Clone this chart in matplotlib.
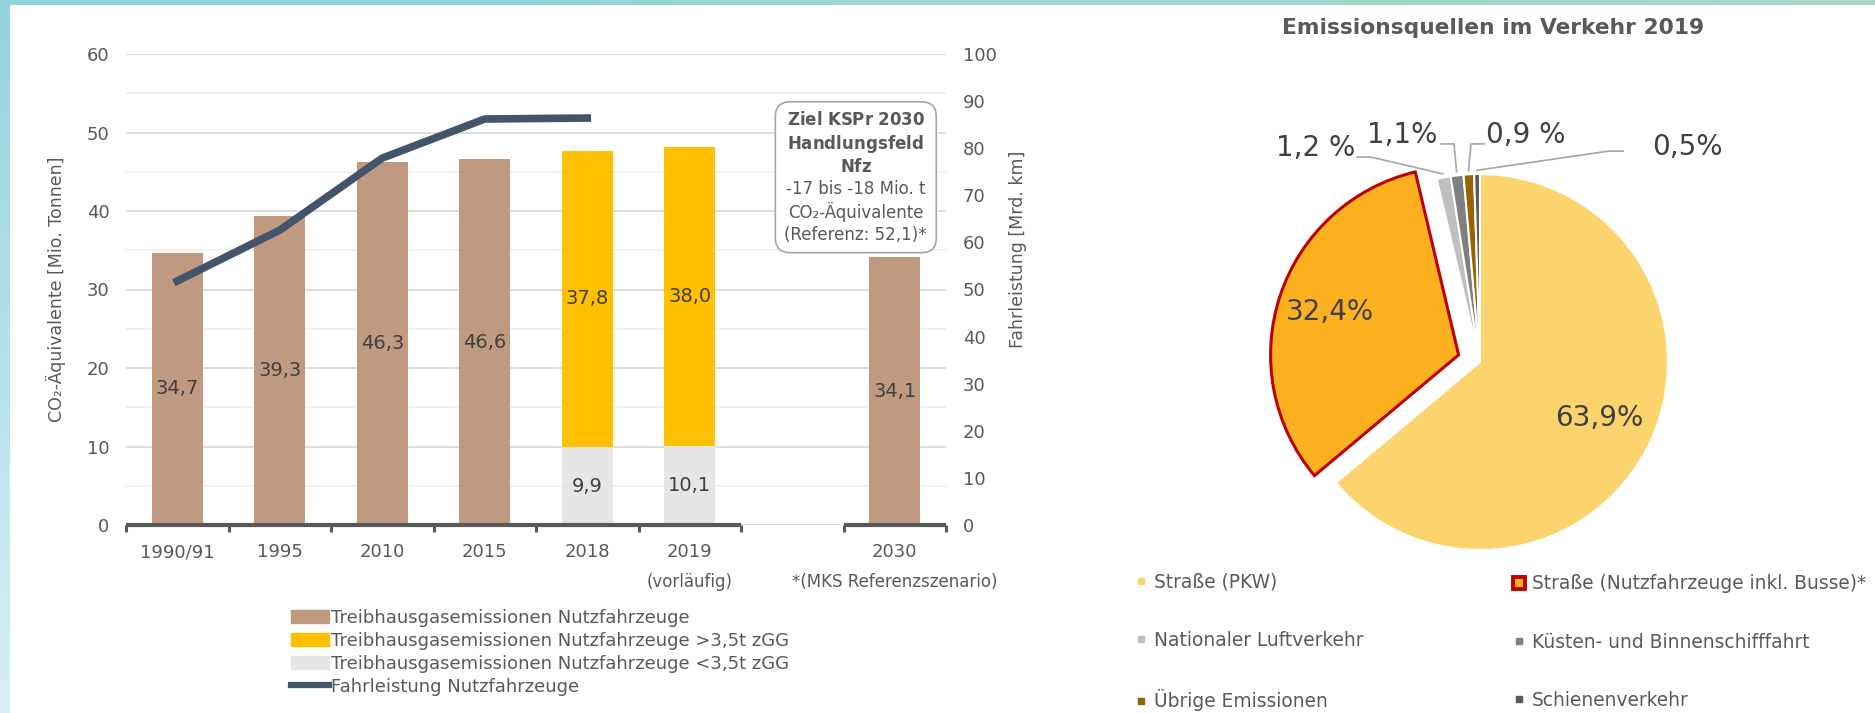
import numpy as np
import matplotlib
matplotlib.use('Agg')
import matplotlib.pyplot as plt
from matplotlib.lines import Line2D
from matplotlib.patches import Patch
from matplotlib.colors import LinearSegmentedColormap
from matplotlib.transforms import blended_transform_factory

plt.rcParams['font.family'] = ['DejaVu Sans']
plt.rcParams['mathtext.fontset'] = 'dejavusans'

# ---- data: left chart ----
years = ['1990/91', '1995', '2010', '2015', '2018', '2019', '2030']
x_pos = [0, 1, 2, 3, 4, 5, 7]
total_years = ['1990/91', '1995', '2010', '2015', '2030']
total_vals = [34.7, 39.3, 46.3, 46.6, 34.1]          # Treibhausgasemissionen Nfz
split_years = ['2018', '2019']
light_vals = [9.9, 10.1]                              # < 3,5t zGG
heavy_vals = [37.8, 38.0]                             # > 3,5t zGG
mileage_years = ['1990/91', '1995', '2010', '2015', '2018']
mileage_vals = [51.8, 62.6, 77.9, 86.2, 86.4]         # Fahrleistung [Mrd. km]

# ---- data: pie ----
pie_names = ['Straße (PKW)', 'Straße (Nutzfahrzeuge inkl. Busse)*', 'Nationaler Luftverkehr',
             'Küsten- und Binnenschifffahrt', 'Übrige Emissionen', 'Schienenverkehr']
pie_vals = [63.9, 32.4, 1.2, 1.1, 0.9, 0.5]
pie_small_text = ['1,2 %', '1,1%', '0,9 %', '0,5%']

BROWN, YELLOW, LIGHT, LINE = '#BF9A80', '#FFC000', '#E6E6E6', '#44546A'
pie_colors = ['#FBD46D', '#FEB120', '#BFBFBF', '#7F7F7F', '#996300', '#595959']
TXT = '#595959'

W, H = 1875, 713
fig = plt.figure(figsize=(W / 100, H / 100), dpi=100)


def fbox(x0, y0, x1, y1):
    # pixel box (origin top left) -> figure rect
    return [x0 / W, 1 - y1 / H, (x1 - x0) / W, (y1 - y0) / H]


def de(v):
    return f'{v:.1f}'.replace('.', ',')


# gradient frame at top and left
g = np.linspace(0, 1, 256)
top = fig.add_axes(fbox(0, 0, W, 5))
top.imshow(g[None, :], aspect='auto', cmap=LinearSegmentedColormap.from_list('t', ['#8ED2DD', '#A7D9C5']))
top.axis('off')
side = fig.add_axes(fbox(0, 0, 10, H))
side.imshow(g[:, None], aspect='auto', cmap=LinearSegmentedColormap.from_list('s', ['#92D3DE', '#D8EFF5']))
side.axis('off')

# ---- left chart ----
pos = dict(zip(years, x_pos))
ax = fig.add_axes(fbox(126, 54, 946, 525))
ax.set_xlim(-0.5, 7.5)
ax.set_ylim(0, 60)
ax.set_yticks(range(0, 61, 10))
ax.set_yticks(range(0, 61, 5), minor=True)
ax.grid(axis='y', which='major', color='#D9D9D9', lw=1.3)
ax.grid(axis='y', which='minor', color='#F0F0F0', lw=1.3)
ax.set_axisbelow(True)
for s in ax.spines.values():
    s.set_visible(False)

b1 = ax.bar([pos[y] for y in total_years], total_vals, width=0.5, color=BROWN)
b2 = ax.bar([pos[y] for y in split_years], light_vals, width=0.5, color=LIGHT)
b3 = ax.bar([pos[y] for y in split_years], heavy_vals, width=0.5, bottom=light_vals, color=YELLOW)
for bc, vals in [(b1, total_vals), (b2, light_vals), (b3, heavy_vals)]:
    ax.bar_label(bc, labels=[de(v) for v in vals], label_type='center', fontsize=14, color='#404040')

# broken baseline with category separators
for a, b in [(-0.5, 5.5), (6.5, 7.5)]:
    ax.plot([a, b], [0, 0], color=TXT, lw=3, clip_on=False, zorder=5, solid_capstyle='butt')
ax.vlines([-0.5, 0.5, 1.5, 2.5, 3.5, 4.5, 5.5, 6.5, 7.5], -0.9, 0, color=TXT, lw=2.2, clip_on=False, zorder=5)

ax.set_xticks(x_pos, years)
ax.tick_params(axis='x', length=0, pad=13, labelsize=13, labelcolor=TXT)
ax.tick_params(axis='y', which='both', length=0, pad=12, labelsize=13, labelcolor=TXT)
tr = blended_transform_factory(ax.transData, ax.transAxes)
ax.text(pos['2019'], -0.121, '(vorläufig)', transform=tr, ha='center', va='center', fontsize=12, color=TXT)
ax.text(pos['2030'], -0.121, '*(MKS Referenzszenario)', transform=tr, ha='center', va='center',
        fontsize=12, color=TXT)

ax.set_ylabel('CO₂-Äquivalente [Mio. Tonnen]', fontsize=12.5, color=TXT)
ax.yaxis.set_label_coords(-0.073, 0.5)

ax2 = ax.twinx()
ax2.set_ylim(0, 100)
ax2.set_yticks(range(0, 101, 10))
ax2.tick_params(length=0, pad=12, labelsize=13, labelcolor=TXT)
for s in ax2.spines.values():
    s.set_visible(False)
ax2.plot([pos[y] for y in mileage_years], mileage_vals, color=LINE, lw=5.5)
ax2.set_ylabel('Fahrleistung [Mrd. km]', fontsize=12.5, color=TXT)
ax2.yaxis.set_label_coords(1.077, 0.586)

# target box (first three lines bold)
box_text = '\n'.join([r'$\mathbf{Ziel\ KSPr\ 2030}$', r'$\mathbf{Handlungsfeld}$', r'$\mathbf{Nfz}$',
                      '-17 bis -18 Mio. t', 'CO₂-Äquivalente', '(Referenz: 52,1)*'])
ax.text(6.62, 44.3, box_text, ha='center', va='center', fontsize=12, color=TXT, linespacing=1.25, zorder=6,
        bbox=dict(boxstyle='round,pad=0.55,rounding_size=0.9', fc='white', ec='#A6A6A6', lw=1.2))

leg = ax.legend(handles=[Patch(color=BROWN), Patch(color=YELLOW), Patch(color=LIGHT),
                         Line2D([], [], color=LINE, lw=4.5)],
                labels=['Treibhausgasemissionen Nutzfahrzeuge',
                        'Treibhausgasemissionen Nutzfahrzeuge >3,5t zGG',
                        'Treibhausgasemissionen Nutzfahrzeuge <3,5t zGG',
                        'Fahrleistung Nutzfahrzeuge'],
                loc='upper left', bbox_to_anchor=(291 / W, 1 - 609 / H), bbox_transform=fig.transFigure,
                frameon=False, fontsize=13, handlelength=2.1, handleheight=0.7, handletextpad=0.1,
                labelspacing=0.27, borderpad=0, borderaxespad=0)
for t in leg.get_texts():
    t.set_color(TXT)

# ---- pie ----
pax = fig.add_axes(fbox(1198, 80, 1762, 644))
explode = [0, 0.12, 0, 0, 0, 0]
wedges, _ = pax.pie(pie_vals, colors=pie_colors, startangle=90, counterclock=False, explode=explode,
                    wedgeprops=dict(edgecolor='white', linewidth=1.5))
wedges[1].set_edgecolor('#C00000')
wedges[1].set_linewidth(2.2)
pax.set_xlim(-1.5, 1.5)
pax.set_ylim(-1.5, 1.5)
pax.set_aspect('equal')

for i, r in [(0, 0.7), (1, 0.72)]:
    w = wedges[i]
    ang = np.deg2rad((w.theta1 + w.theta2) / 2)
    pax.text(w.center[0] + r * np.cos(ang), w.center[1] + r * np.sin(ang), de(pie_vals[i]) + '%',
             ha='center', va='center', fontsize=20, color='#404040')

label_xy = [(-0.872, 1.138), (-0.415, 1.207), (0.245, 1.207), (1.101, 1.144)]
leaders = [((-0.654, 1.09), (-0.58, 1.09)), ((-0.207, 1.16), (-0.138, 1.16)),
           ((0.021, 1.16), (-0.048, 1.16)), ((0.761, 1.122), (0.686, 1.122))]
for i, txt, (lx, ly), (p0, p1) in zip(range(2, 6), pie_small_text, label_xy, leaders):
    w = wedges[i]
    ang = np.deg2rad((w.theta1 + w.theta2) / 2)
    tip = (w.center[0] + 1.02 * np.cos(ang), w.center[1] + 1.02 * np.sin(ang))
    pax.plot([p0[0], p1[0], tip[0]], [p0[1], p1[1], tip[1]], color='#A6A6A6', lw=1.2)
    pax.text(lx, ly, txt, ha='center', va='center', fontsize=20, color='#404040')

fig.text(1493 / W, 1 - 28 / H, 'Emissionsquellen im Verkehr 2019', ha='center', va='center',
         fontsize=15.7, fontweight='bold', color=TXT)


def handle(i):
    if i == 1:
        return Line2D([], [], marker='s', ls='none', markersize=8.7, mfc=pie_colors[1], mec='#C00000', mew=2.8)
    return Line2D([], [], marker='s', ls='none', markersize=4.5, mfc=pie_colors[i], mec=pie_colors[i])


for idx, xl in [([0, 2, 4], 1134), ([1, 3, 5], 1512)]:
    lg = fig.legend(handles=[handle(i) for i in idx], labels=[pie_names[i] for i in idx],
                    loc='center left', bbox_to_anchor=(xl / W, 1 - 642 / H), frameon=False, fontsize=13.4,
                    handlelength=0.8, handletextpad=0.25, labelspacing=2.12, borderpad=0, borderaxespad=0)
    for t in lg.get_texts():
        t.set_color(TXT)

fig.savefig('out.png', dpi=100, facecolor='white')
